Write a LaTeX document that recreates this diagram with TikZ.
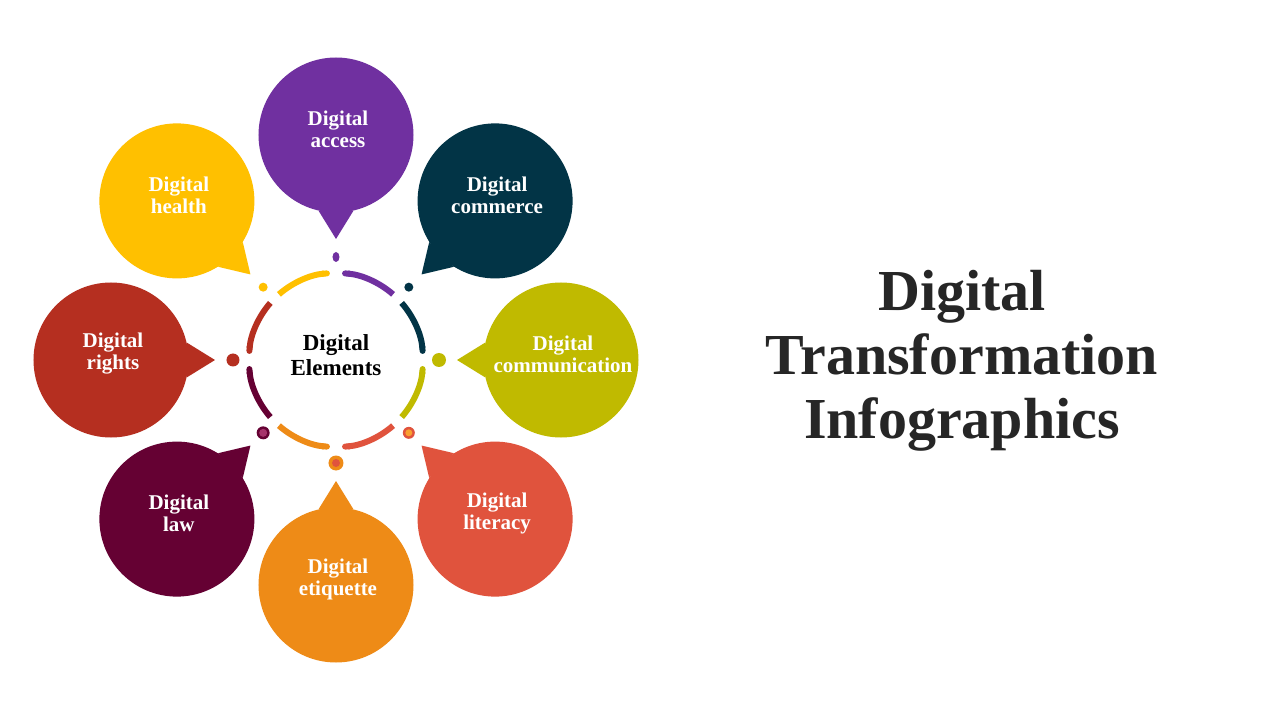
\documentclass[tikz,border=0pt]{standalone}
\usepackage{fontspec}
\setmainfont{Liberation Serif}
\usepackage{xcolor}
\usetikzlibrary{arrows.meta}

\definecolor{accesspurple}{HTML}{7030A0}
\definecolor{commercenavy}{HTML}{023446}
\definecolor{commolive}{HTML}{C0BA00}
\definecolor{literacyred}{HTML}{E0533D}
\definecolor{etiquetteorange}{HTML}{EE8B17}
\definecolor{lawmaroon}{HTML}{650133}
\definecolor{rightsred}{HTML}{B52F20}
\definecolor{healthyellow}{HTML}{FFC000}
\definecolor{dotorange}{HTML}{F9A030}
\definecolor{dotpink}{HTML}{A6336B}
\definecolor{titlegray}{HTML}{262626}

\tikzset{
  bubble/.style={circle, minimum size=155pt, inner sep=0pt},
  bubbletext/.style={text=white, align=center, font=\bfseries\fontsize{21}{22}\selectfont},
  ringarc/.style={line width=6pt},
  capstart/.style={arrows={Round Cap-}},
  capend/.style={arrows={-Round Cap}},
}

\begin{document}
\begin{tikzpicture}[x=1pt, y=1pt]
        % Page
        \fill[white] (-336,-360) rectangle (944,360);
        \useasboundingbox (-336,-360) rectangle (944,360);

        % Bubbles, tails, dots and ring pieces
        \foreach \a/\col/\txt/\nm/\r/\ry/\inr/\inc/\cap in {
            90/accesspurple/{Digital\\access}/access/3.5/5/0/accesspurple/capstart,
            45/commercenavy/{Digital\\commerce}/commerce/4.5/4.5/0/commercenavy/capend,
            0/commolive/{Digital\\communication}/communication/7/7/0/commolive/capstart,
            -45/literacyred/{Digital\\literacy}/literacy/6/6/3.5/dotorange/capend,
            -90/etiquetteorange/{Digital\\etiquette}/etiquette/7.5/7.5/4/literacyred/capstart,
            -135/lawmaroon/{Digital\\law}/law/6.5/6.5/4/dotpink/capend,
            180/rightsred/{Digital\\rights}/rights/6.5/6.5/0/rightsred/capstart,
            135/healthyellow/{Digital\\health}/health/4.5/4.5/0/healthyellow/capend}
        {
            \node[bubble, fill=\col] (\nm) at (\a:225) {};
            \pgfmathtruncatemacro\la{\a+167}
            \pgfmathtruncatemacro\lb{\a+193}
            \fill[\col] (\nm.\la) -- (\a:121) -- (\nm.\lb) -- cycle;
            \node[bubbletext] (\nm-text) at ([xshift=2pt, yshift=6pt]\nm.center) {\txt};
            \fill[\col] (\a:103) circle[x radius=\r, y radius=\ry];
            \fill[\inc] (\a:103) circle (\inr);
            \draw[ringarc, \col, \cap] (\a-4:87) arc[start angle=\a-4, end angle=\a-41, radius=87];
        }

        % Center
        \node[align=center, font=\bfseries\fontsize{23}{25}\selectfont] (elements) at (0,5) {Digital\\Elements};

        % Title
        \node[align=center, text=titlegray, font=\bfseries\fontsize{58}{64}\selectfont] (title) at (626,-1) {Digital\\Transformation\\Infographics};
\end{tikzpicture}
\end{document}
